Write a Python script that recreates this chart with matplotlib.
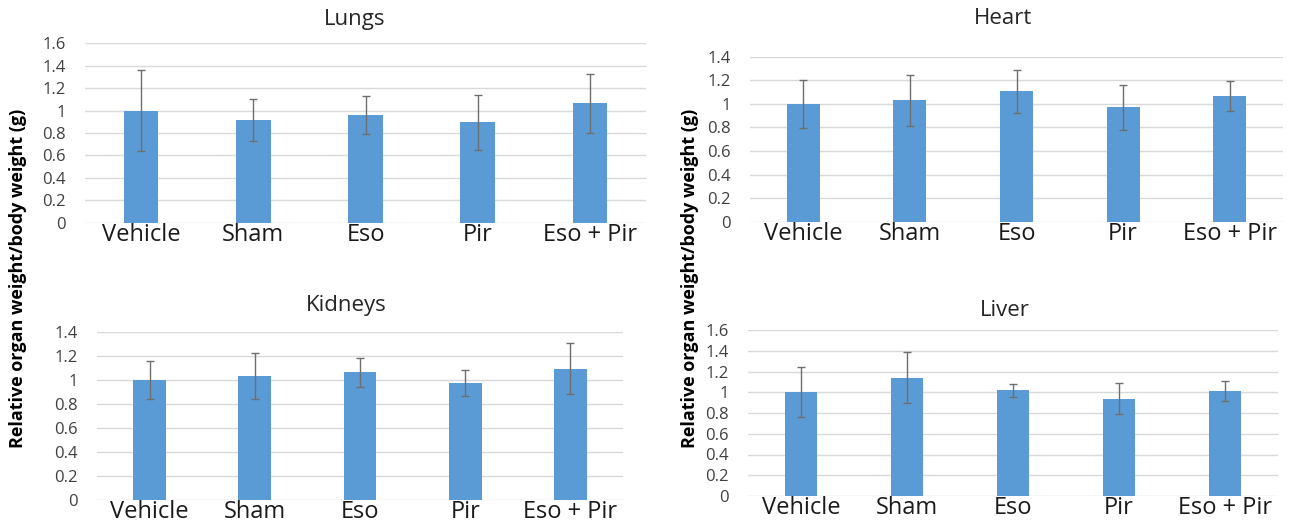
import matplotlib.pyplot as plt
import numpy as np

plt.rcParams['font.family'] = ['Open Sans', 'DejaVu Sans']

groups = ['Vehicle', 'Sham', 'Eso', 'Pir', 'Eso + Pir']

# mean relative organ weight and error for each group
lungs = [1.00, 0.915, 0.96, 0.895, 1.065]
lungs_err = [0.36, 0.185, 0.17, 0.245, 0.265]

heart = [1.00, 1.03, 1.105, 0.97, 1.068]
heart_err = [0.205, 0.215, 0.182, 0.188, 0.128]

kidneys = [1.00, 1.028, 1.062, 0.975, 1.092]
kidneys_err = [0.158, 0.192, 0.122, 0.108, 0.214]

liver = [1.00, 1.142, 1.017, 0.938, 1.01]
liver_err = [0.24, 0.25, 0.064, 0.15, 0.094]

BAR_COLOR = '#5B9BD5'
GRID_COLOR = '#D9D9D9'
ERR_COLOR = '#6E6E6E'
W, H = 1312, 526


def px_box( left , top , right , bottom ) :
    # pixel box -> figure fraction rect
    return [ left / W , 1 - bottom / H , (right - left) / W , (bottom - top) / H ]


def draw_panel( fig , box , values , errors , ymax , title , title_xy ) :
    ax = fig.add_axes( px_box( *box ) )
    x = np.arange( len( groups ) )
    ax.bar( x , values , width=0.31 , color=BAR_COLOR , zorder=2 )
    ax.errorbar( x , values , yerr=errors , fmt='none' , ecolor=ERR_COLOR ,
                 elinewidth=1 , capsize=3 , capthick=1 , zorder=3 )
    ax.set_xlim( -0.5 , len( groups ) - 0.5 )
    ax.set_ylim( 0 , ymax )
    ticks = np.round( np.arange( 0 , ymax + 0.01 , 0.2 ) , 1 )
    ax.set_yticks( ticks )
    ax.set_yticklabels( [ '%g' % t for t in ticks ] , fontsize=12 , color='#404040' )
    ax.set_xticks( x )
    ax.set_xticklabels( groups , fontsize=17 , color='#1a1a1a' )
    ax.tick_params( axis='both' , length=0 )
    ax.tick_params( axis='y' , pad=14 )
    ax.tick_params( axis='x' , pad=0 )
    ax.yaxis.grid( True , color=GRID_COLOR , linewidth=1 , zorder=0 )
    ax.set_axisbelow( True )
    for s in ax.spines.values() :
        s.set_visible( False )
    fig.text( title_xy[ 0 ] / W , 1 - title_xy[ 1 ] / H , title , fontsize=16 ,
              color='#262626' , ha='center' , va='center' )
    return ax


fig = plt.figure( figsize=(W / 100 , H / 100) , dpi=100 )

draw_panel( fig , (85 , 43.3 , 646 , 222.7) , lungs , lungs_err , 1.6 , 'Lungs' , (355 , 20) )
draw_panel( fig , (750 , 56.7 , 1283 , 221.7) , heart , heart_err , 1.4 , 'Heart' , (1003 , 19) )
draw_panel( fig , (97 , 331.7 , 623 , 499.5) , kidneys , kidneys_err , 1.4 , 'Kidneys' , (346 , 306) )
draw_panel( fig , (748 , 330 , 1278 , 496) , liver , liver_err , 1.6 , 'Liver' , (1005 , 311) )

ylabel = 'Relative organ weight/body weight (g)'
fig.text( 18 / W , 1 - 278 / H , ylabel , rotation=90 , fontsize=13 , fontweight='bold' ,
          ha='center' , va='center' , color='black' )
fig.text( 690 / W , 1 - 278 / H , ylabel , rotation=90 , fontsize=13 , fontweight='bold' ,
          ha='center' , va='center' , color='black' )

fig.savefig( 'out.png' , dpi=100 , facecolor='white' )
